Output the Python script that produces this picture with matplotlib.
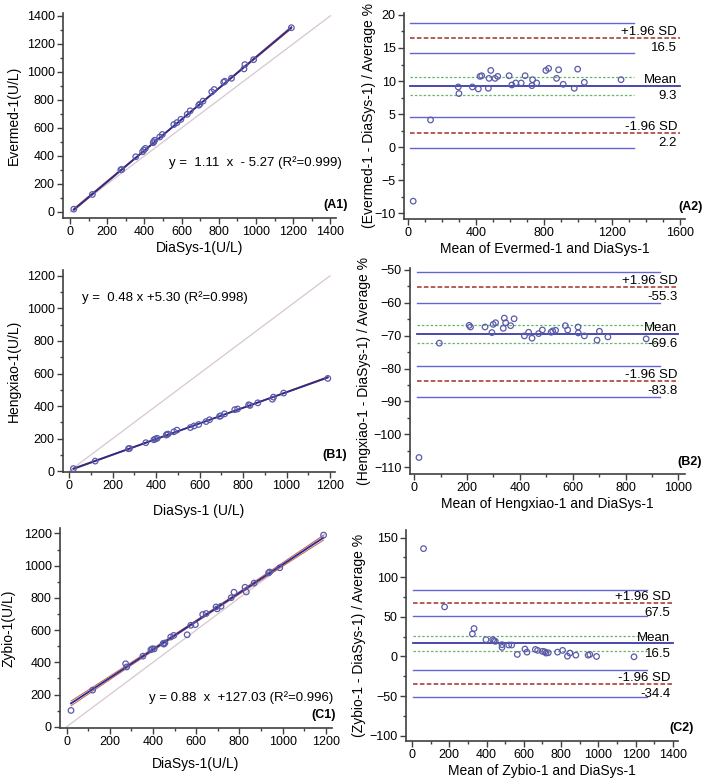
import numpy as np
import matplotlib
matplotlib.use('Agg')
import matplotlib.pyplot as plt
from matplotlib.ticker import MultipleLocator

plt.rcParams['font.family'] = ['Liberation Sans', 'DejaVu Sans']

#------------------------------------------------------------------------------
# DATA
#------------------------------------------------------------------------------

diasys = [20, 120, 273, 278, 353, 390, 397, 405, 447, 450, 455, 482, 496, 558, 575,
          596, 630, 646, 692, 697, 715, 762, 775, 826, 832, 868, 935, 940, 987, 1190]
evermed = [20, 125, 301, 303, 394, 430, 443, 454, 494, 501, 512, 535, 553, 624, 638,
           661, 697, 722, 762, 769, 791, 857, 874, 926, 933, 954, 1021, 1052, 1087, 1315]
hengxiao = [16, 62, 138, 140, 175, 193, 198, 202, 222, 226, 228, 242, 252, 268, 278,
            287, 305, 316, 337, 340, 352, 378, 382, 408, 404, 420, 442, 455, 480, 570]
zybio = [101, 227, 391, 371, 438, 478, 484, 483, 517, 513, 520, 557, 567, 571, 630,
         634, 697, 703, 744, 732, 748, 801, 835, 866, 837, 892, 955, 961, 987, 1190]

# regression: slope, intercept, text
reg_a = [1.11, -5.27]
reg_b = [0.48, 5.30]
reg_c = [0.88, 127.03]
eq_a = "y =  1.11  x  - 5.27 (R\u00b2=0.999)"
eq_b = "y =  0.48 x +5.30 (R\u00b2=0.998)"
eq_c = "y = 0.88  x  +127.03 (R\u00b2=0.996)"

# Bland-Altman points
ba_a_mean = [29, 131, 294, 298, 377, 412, 422, 432, 471, 475, 485, 510, 526, 593, 609,
             632, 664, 687, 727, 731, 755, 809, 825, 872, 884, 911, 976, 996, 1035, 1251]
ba_a_diff = [-8.2, 4.1, 9.1, 8.1, 9.1, 8.8, 10.7, 10.8, 8.9, 10.4, 11.6, 10.4, 10.7, 10.8, 9.4,
             9.7, 9.7, 10.8, 9.3, 10.2, 9.7, 11.6, 11.9, 10.4, 11.7, 9.5, 8.9, 11.8, 9.8, 10.2]
ba_b_mean = [18, 95, 208, 213, 268, 294, 299, 308, 337, 341, 346, 365, 378, 417, 433,
             446, 471, 485, 518, 524, 535, 572, 581, 620, 621, 644, 692, 701, 733, 878]
ba_b_diff = [-107.0, -72.3, -66.9, -67.4, -67.4, -69.1, -66.6, -66.1, -67.8, -64.7, -66.1, -67.0,
             -64.9, -70.1, -69.0, -70.8, -69.4, -68.3, -69.0, -68.6, -68.4, -67.0, -68.3, -67.4,
             -69.2, -70.1, -71.4, -68.7, -70.4, -71.0]
ba_c_mean = [62, 175, 324, 333, 397, 433, 440, 447, 483, 483, 519, 535, 565, 606, 617,
             662, 674, 700, 712, 719, 731, 781, 808, 834, 847, 879, 945, 954, 990, 1191]
ba_c_diff = [136.2, 62.6, 28.5, 35.3, 21.3, 21.3, 20.0, 19.1, 14.9, 11.5, 14.5, 14.5, 2.6, 9.4, 5.5,
             8.9, 7.7, 6.5, 6.0, 4.3, 4.7, 5.5, 7.7, 0.4, 4.3, 1.7, 1.7, 2.6, 0.0, -0.4]

# mean, mean CI low/high, upper LoA, its CI low/high, lower LoA, its CI low/high
ba_a_lines = [9.3, 7.95, 10.65, 16.5, 14.2, 18.8, 2.2, -0.1, 4.5]
ba_b_lines = [-69.6, -72.3, -66.9, -55.3, -60.0, -50.6, -83.8, -88.5, -79.1]
ba_c_lines = [16.5, 6.7, 26.3, 67.5, 50.5, 84.5, -34.4, -51.4, -17.4]

#------------------------------------------------------------------------------
# STYLE
#------------------------------------------------------------------------------
W, H = 709, 779
PT_COL = '#5a5aaa'
REG_COL = '#2a2a90'
CI_COL = '#c8644e'
ID_COL = '#d8c6cf'
LIM_COL = '#6464d2'
RED_COL = '#a03028'
GRN_COL = '#6cb46c'
AX_COL = '#404040'


def box(l, t, r, b):
    return [l / W, 1 - b / H, (r - l) / W, (b - t) / H]


def style_axes(ax, xmaj, xmin, ymaj, ymin):
    for s in ['top', 'right']:
        ax.spines[s].set_visible(False)
    for s in ['left', 'bottom']:
        ax.spines[s].set_color(AX_COL)
        ax.spines[s].set_linewidth(1.2)
    ax.xaxis.set_major_locator(MultipleLocator(xmaj))
    ax.xaxis.set_minor_locator(MultipleLocator(xmin))
    ax.yaxis.set_major_locator(MultipleLocator(ymaj))
    ax.yaxis.set_minor_locator(MultipleLocator(ymin))
    ax.tick_params(which='major', direction='out', length=4, width=1, color=AX_COL,
                   labelsize=9, pad=2)
    ax.tick_params(which='minor', direction='out', length=2.5, width=1, color=AX_COL)


def scatter_panel(ax, x, y, reg, eq, eq_pos, eq_ha, idmax):
    x = np.array(x, float)
    y = np.array(y, float)
    b, a = reg
    ax.plot([0, idmax], [0, idmax], color=ID_COL, lw=0.9, zorder=1)
    xx = np.linspace(x.min(), x.max(), 100)
    fit = b * xx + a
    res = y - (b * x + a)
    n = len(x)
    s = np.sqrt(np.sum(res ** 2) / (n - 2))
    se = s * np.sqrt(1.0 / n + (xx - x.mean()) ** 2 / np.sum((x - x.mean()) ** 2))
    ax.plot(xx, fit + 2.048 * se, color=CI_COL, lw=0.7, zorder=2)
    ax.plot(xx, fit - 2.048 * se, color=CI_COL, lw=0.7, zorder=2)
    ax.plot(xx, fit, color=REG_COL, lw=1.3, zorder=3)
    ax.scatter(x, y, s=16, facecolors='none', edgecolors=PT_COL, linewidths=0.9,
               zorder=4, clip_on=False)
    ax.text(eq_pos[0], eq_pos[1], eq, transform=ax.transAxes, ha=eq_ha, va='center',
            fontsize=9.5)


def ba_panel(ax, m, d, lines, x0, xci, xend):
    mean, mlo, mhi, up, uplo, uphi, lo, lolo, lohi = lines
    for v in [uphi, uplo, lohi, lolo]:
        ax.plot([x0, xci], [v, v], color=LIM_COL, lw=1.0, zorder=2)
    for v in [mlo, mhi]:
        ax.plot([x0, xci], [v, v], color=GRN_COL, lw=0.9, ls=(0, (2, 1.5)), zorder=2)
    for v in [up, lo]:
        ax.plot([x0, xend], [v, v], color=RED_COL, lw=1.1, ls=(0, (3, 1.5)), zorder=2)
    ax.plot([x0, xend], [mean, mean], color='#3a3aa6', lw=1.3, zorder=2)
    ax.scatter(m, d, s=16, facecolors='none', edgecolors=PT_COL, linewidths=0.9,
               zorder=4, clip_on=False)
    trans = ax.get_yaxis_transform()
    tx = 0.972
    for v, top, bot in [(up, '+1.96 SD', '%.1f' % up), (mean, 'Mean', '%.1f' % mean),
                        (lo, '-1.96 SD', '%.1f' % lo)]:
        ax.annotate(top, (tx, v), xycoords=trans, xytext=(0, 2), textcoords='offset points',
                    ha='right', va='baseline', fontsize=9.5)
        ax.annotate(bot, (tx, v), xycoords=trans, xytext=(0, -3), textcoords='offset points',
                    ha='right', va='top', fontsize=9.5)


fig = plt.figure(figsize=(W / 100, H / 100), dpi=100)

#------------------------------------------------------------------------------
# ROW A
#------------------------------------------------------------------------------
ax = fig.add_axes(box(63, 13, 336, 218))
scatter_panel(ax, diasys, evermed, reg_a, eq_a, (1.022, 0.268), 'right', 1400)
ax.set_xlim(-38, 1430)
ax.set_ylim(-43, 1420)
style_axes(ax, 200, 100, 200, 100)
ax.set_xlabel('DiaSys-1(U/L)', fontsize=10)
ax.set_ylabel('Evermed-1(U/L)', fontsize=10)
ax.xaxis.set_label_coords(0.5, -0.112)
ax.yaxis.set_label_coords(-0.154, 0.5)

ax = fig.add_axes(box(404, 13, 685, 219))
ba_panel(ax, ba_a_mean, ba_a_diff, ba_a_lines, 10, 1325, 1600)
ax.set_xlim(-25, 1627)
ax.set_ylim(-10.9, 20.3)
style_axes(ax, 400, 100, 5, 2.5)
ax.set_xlabel('Mean of Evermed-1 and DiaSys-1', fontsize=10)
ax.set_ylabel('(Evermed-1 - DiaSys-1) / Average %', fontsize=10)
ax.xaxis.set_label_coords(0.5, -0.112)
ax.yaxis.set_label_coords(-0.10, 0.5)

#------------------------------------------------------------------------------
# ROW B
#------------------------------------------------------------------------------
ax = fig.add_axes(box(63, 270, 335, 472))
scatter_panel(ax, diasys, hengxiao, reg_b, eq_b, (0.07, 0.861), 'left', 1200)
ax.set_xlim(-28, 1223)
ax.set_ylim(-5, 1236)
style_axes(ax, 200, 100, 200, 100)
ax.set_xlabel('DiaSys-1 (U/L)', fontsize=10)
ax.set_ylabel('Hengxiao-1(U/L)', fontsize=10)
ax.xaxis.set_label_coords(0.5, -0.158)
ax.yaxis.set_label_coords(-0.154, 0.5)

ax = fig.add_axes(box(410, 268, 685, 474))
ba_panel(ax, ba_b_mean, ba_b_diff, ba_b_lines, 9, 930, 1000)
ax.set_xlim(-16, 1025)
ax.set_ylim(-112, -49.5)
style_axes(ax, 200, 100, 10, 5)
ax.set_xlabel('Mean of Hengxiao-1 and DiaSys-1', fontsize=10)
ax.set_ylabel('(Hengxiao-1 - DiaSys-1) / Average %', fontsize=10)
ax.xaxis.set_label_coords(0.5, -0.112)
ax.yaxis.set_label_coords(-0.142, 0.5)

#------------------------------------------------------------------------------
# ROW C
#------------------------------------------------------------------------------
ax = fig.add_axes(box(60, 528, 332, 728))
scatter_panel(ax, diasys, zybio, reg_c, eq_c, (1.004, 0.15), 'right', 1200)
ax.set_xlim(-31, 1229)
ax.set_ylim(-8, 1234)
style_axes(ax, 200, 100, 200, 100)
ax.set_xlabel('DiaSys-1(U/L)', fontsize=10)
ax.set_ylabel('Zybio-1(U/L)', fontsize=10)
ax.xaxis.set_label_coords(0.5, -0.145)
ax.yaxis.set_label_coords(-0.162, 0.5)

ax = fig.add_axes(box(406, 530, 678, 741))
ba_panel(ax, ba_c_mean, ba_c_diff, ba_c_lines, 4, 1263, 1400)
ax.set_xlim(-32, 1427)
ax.set_ylim(-106.7, 159.7)
style_axes(ax, 200, 100, 50, 25)
ax.set_xlabel('Mean of Zybio-1 and DiaSys-1', fontsize=10)
ax.set_ylabel('(Zybio-1 - DiaSys-1) / Average %', fontsize=10)
ax.xaxis.set_label_coords(0.5, -0.109)
ax.yaxis.set_label_coords(-0.147, 0.5)

#------------------------------------------------------------------------------
# PANEL TAGS
#------------------------------------------------------------------------------
for tag, px, py in [('(A1)', 348, 205), ('(A2)', 703, 207), ('(B1)', 347, 455),
                    ('(B2)', 702, 462), ('(C1)', 336, 715), ('(C2)', 694, 728)]:
    fig.text(px / W, 1 - py / H, tag, ha='right', va='center', fontsize=9, fontweight='bold')

fig.savefig('out.png', dpi=100)
